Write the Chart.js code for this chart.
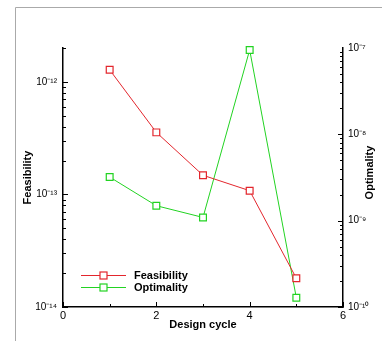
<!DOCTYPE html>
<html>
<head>
<meta charset="utf-8">
<script src="https://cdn.jsdelivr.net/npm/chart.js@4/dist/chart.umd.min.js"></script>
<style>
  html, body { margin: 0; padding: 0; background: #fff; }
  canvas { display: block; }
</style>
</head>
<body>
<canvas id="convChart" width="382" height="341"></canvas>
<script>
// Design cycles and the two convergence measures
const cycles = [1, 2, 3, 4, 5];
const feasibility = [1.28e-12, 3.56e-13, 1.48e-13, 1.08e-13, 1.8e-14];
const optimality = [3.2e-9, 1.49e-9, 1.09e-9, 9.5e-8, 1.28e-10];

// Axis ranges and labelled ticks
const xTicks = [0, 2, 4, 6];
const xMinorTicks = [1, 3, 5];
const feasDecades = [1e-14, 1e-13, 1e-12];
const optDecades = [1e-10, 1e-9, 1e-8, 1e-7];

const FONT = "'Liberation Sans', Arial, Helvetica, sans-serif";
const RED = '#e3262d';
const GREEN = '#22d322';

const SUP = { '-': '\u207B', '0': '\u2070', '1': '\u00B9', '2': '\u00B2', '3': '\u00B3',
  '4': '\u2074', '5': '\u2075', '6': '\u2076', '7': '\u2077', '8': '\u2078', '9': '\u2079' };

function powerLabel(value) {
  const e = String(Math.round(Math.log10(value)));
  return '10' + e.split('').map(c => SUP[c]).join('');
}

function toPoints(ys) {
  return cycles.map((x, i) => ({ x: x, y: ys[i] }));
}

// Tecplot-style inward tick marks, major on decades and minor in between
const inwardTicks = {
  id: 'inwardTicks',
  afterDraw(chart) {
    const ctx = chart.ctx;
    const { x, y, y2 } = chart.scales;
    ctx.save();
    ctx.strokeStyle = '#000';
    ctx.lineWidth = 1;

    const mark = (x1, y1, x2, y2p) => {
      ctx.beginPath();
      ctx.moveTo(x1, y1);
      ctx.lineTo(x2, y2p);
      ctx.stroke();
    };

    xTicks.forEach(v => {
      const px = Math.round(x.getPixelForValue(v)) + 0.5;
      mark(px, y.bottom, px, y.bottom - 5);
    });
    xMinorTicks.forEach(v => {
      const px = Math.round(x.getPixelForValue(v)) + 0.5;
      mark(px, y.bottom, px, y.bottom - 3);
    });

    const logTicks = (scale, decades, side) => {
      const x0 = side === 'left' ? chart.chartArea.left : chart.chartArea.right;
      const dir = side === 'left' ? 1 : -1;
      decades.forEach((d, i) => {
        const py = Math.round(scale.getPixelForValue(d)) + 0.5;
        mark(x0, py, x0 + dir * 5, py);
        for (let k = 2; k <= 9; k++) {
          const v = d * k;
          if (v > scale.max) break;
          if (i === decades.length - 1 && v > scale.max) break;
          const pm = Math.round(scale.getPixelForValue(v)) + 0.5;
          if (pm < chart.chartArea.top - 0.5) break;
          mark(x0, pm, x0 + dir * 3, pm);
        }
      });
    };
    logTicks(y, feasDecades, 'left');
    logTicks(y2, optDecades.slice(0, -1), 'right');
    ctx.restore();
  }
};

// Page frame, right-hand axis title and the legend box in the lower left
const decorations = {
  id: 'decorations',
  beforeDraw(chart) {
    const ctx = chart.ctx;
    ctx.save();
    ctx.strokeStyle = '#aaaaaa';
    ctx.lineWidth = 1;
    ctx.beginPath();
    ctx.moveTo(15.5, chart.height);
    ctx.lineTo(15.5, 7.5);
    ctx.lineTo(chart.width, 7.5);
    ctx.stroke();
    ctx.restore();
  },
  afterDraw(chart) {
    const ctx = chart.ctx;
    const area = chart.chartArea;
    ctx.save();

    ctx.fillStyle = '#000';
    ctx.font = 'bold 11px ' + FONT;
    ctx.textAlign = 'center';
    ctx.textBaseline = 'middle';
    ctx.translate(370, (area.top + area.bottom) / 2 - 5);
    ctx.rotate(-Math.PI / 2);
    ctx.fillText('Optimality', 0, 0);
    ctx.restore();

    ctx.save();
    const lx = area.left + 18;
    const ly = area.bottom - 32;
    chart.data.datasets.forEach((ds, i) => {
      const yy = ly + i * 12 + 0.5;
      ctx.strokeStyle = ds.borderColor;
      ctx.lineWidth = 1.2;
      ctx.beginPath();
      ctx.moveTo(lx, yy);
      ctx.lineTo(lx + 45, yy);
      ctx.stroke();
      ctx.fillStyle = '#fff';
      ctx.fillRect(lx + 19, yy - 3.5, 7, 7);
      ctx.strokeRect(lx + 19, yy - 3.5, 7, 7);
      ctx.fillStyle = '#000';
      ctx.font = 'bold 11px ' + FONT;
      ctx.textAlign = 'left';
      ctx.textBaseline = 'middle';
      ctx.fillText(ds.label, lx + 53, yy);
    });
    ctx.restore();
  }
};

const lineStyle = color => ({
  borderColor: color,
  backgroundColor: '#fff',
  pointBackgroundColor: '#fff',
  pointBorderColor: color,
  pointStyle: 'rect',
  pointRadius: 4.8,
  pointBorderWidth: 1.2,
  borderWidth: 1,
  tension: 0,
  clip: false
});

new Chart(document.getElementById('convChart'), {
  type: 'line',
  data: {
    datasets: [
      Object.assign({ label: 'Feasibility', data: toPoints(feasibility), yAxisID: 'y' }, lineStyle(RED)),
      Object.assign({ label: 'Optimality', data: toPoints(optimality), yAxisID: 'y2' }, lineStyle(GREEN))
    ]
  },
  options: {
    responsive: false,
    devicePixelRatio: 1,
    animation: false,
    layout: { padding: { top: 48, right: 0, left: 0, bottom: 0 } },
    plugins: {
      legend: { display: false },
      tooltip: { enabled: false }
    },
    scales: {
      x: {
        type: 'linear',
        position: 'bottom',
        min: 0,
        max: 6,
        afterBuildTicks: s => { s.ticks = xTicks.map(v => ({ value: v })); },
        afterFit: s => { s.height = 34; },
        grid: { display: false, drawTicks: false },
        border: { display: true, color: '#000', width: 1.5 },
        ticks: { color: '#000', padding: 2, maxRotation: 0, font: { family: FONT, size: 11 } },
        title: {
          display: true,
          text: 'Design cycle',
          color: '#000',
          font: { family: FONT, size: 11, weight: 'bold' },
          padding: { top: 0, bottom: 9 }
        }
      },
      y: {
        type: 'logarithmic',
        position: 'left',
        min: 1e-14,
        max: 2e-12,
        afterBuildTicks: s => { s.ticks = feasDecades.map(v => ({ value: v })); },
        afterFit: s => { s.width = 63; },
        grid: { display: false, drawTicks: false },
        border: { display: true, color: '#000', width: 1.5 },
        ticks: { color: '#000', padding: 6, callback: v => powerLabel(v), font: { family: FONT, size: 10 } },
        title: {
          display: true,
          text: 'Feasibility',
          color: '#000',
          font: { family: FONT, size: 11, weight: 'bold' },
          padding: { top: 21, bottom: 0 }
        }
      },
      y2: {
        type: 'logarithmic',
        position: 'right',
        min: 1e-10,
        max: 1e-7,
        afterBuildTicks: s => { s.ticks = optDecades.map(v => ({ value: v })); },
        afterFit: s => { s.width = 39; },
        grid: { display: false, drawTicks: false },
        border: { display: true, color: '#000', width: 1.5 },
        ticks: { color: '#000', padding: 5, callback: v => powerLabel(v), font: { family: FONT, size: 10 } }
      }
    }
  },
  plugins: [decorations, inwardTicks]
});
</script>
</body>
</html>
